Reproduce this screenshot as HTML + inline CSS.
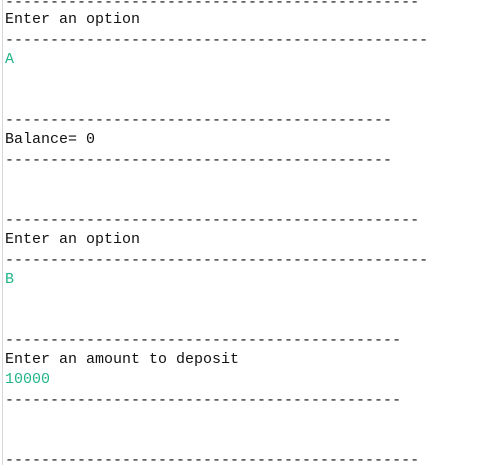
<!DOCTYPE html>
<html><head><style>
html,body{margin:0;padding:0;background:#fff;width:497px;height:465px;overflow:hidden}
.b{position:absolute;left:2px;top:0;width:1px;height:465px;background:#d8d8d8}
pre{position:absolute;left:5px;top:-10px;margin:0;font-family:"Liberation Mono",monospace;font-size:15px;line-height:20px;color:#111}
.g{color:#21b58a}
.d{position:relative;top:1px}
.f{position:relative;top:3px}
</style></head><body>
<div class="b"></div>
<pre><span class="f">----------------------------------------------</span>
Enter an option
<span class="d">-----------------------------------------------</span>
<span class="g">A</span>


<span class="d">-------------------------------------------</span>
Balance= 0
<span class="d">-------------------------------------------</span>


<span class="d">----------------------------------------------</span>
Enter an option
<span class="d">-----------------------------------------------</span>
<span class="g">B</span>


<span class="d">--------------------------------------------</span>
Enter an amount to deposit
<span class="g">10000</span>
<span class="d">--------------------------------------------</span>


<span class="d">----------------------------------------------</span></pre>
</body></html>
